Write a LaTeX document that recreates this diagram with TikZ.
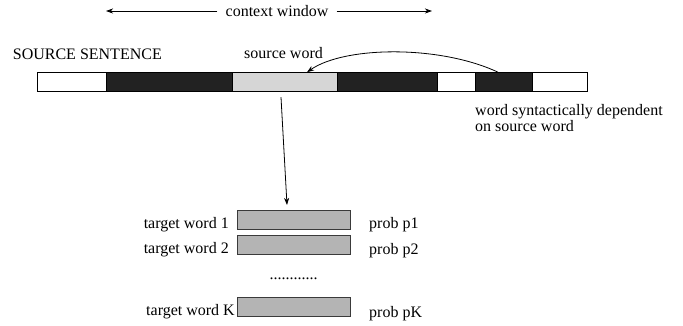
\documentclass[tikz,border=0pt]{standalone}
\usepackage{fontspec}
\setmainfont{Liberation Serif}
\usetikzlibrary{arrows.meta}
\definecolor{segdark}{HTML}{222222}
\definecolor{seglight}{HTML}{D6D6D6}
\definecolor{tgtfill}{HTML}{B4B4B4}
\definecolor{tgtdraw}{HTML}{3A3A3A}
\tikzset{
  seg/.style={draw=black, line width=1pt, minimum height=19pt, inner sep=0pt, outer sep=0pt},
  tgt/.style={draw=tgtdraw, fill=tgtfill, line width=0.9pt, minimum width=113pt, minimum height=19pt, inner sep=0pt, outer sep=0pt},
  lbl/.style={font=\fontsize{16}{16}\selectfont, inner sep=0pt},
  arr/.style={-{Stealth[length=7pt,width=5pt,inset=2pt]}, line width=0.8pt}
}
\begin{document}
\begin{tikzpicture}[x=1pt,y=-1pt]
\useasboundingbox (0,0) rectangle (683,326);
% context window
\node[lbl, inner xsep=8pt] (cw) at (277,11) {context window};
\coordinate (cwl) at (106,11);
\coordinate (cwr) at (432,11);
\draw[arr] (cw.west) -- (cwl);
\draw[arr] (cw.east) -- (cwr);
% labels
\node[lbl, anchor=base west] (ss) at (12.7,60) {SOURCE SENTENCE};
\node[lbl, anchor=base west] (sw) at (244,59) {source word};
% bar segments
\node[seg, fill=white, minimum width=69pt] (s1) at (71.5,81.7) {};
\node[seg, fill=segdark, minimum width=126pt] (s2) at (169,81.7) {};
\node[seg, fill=seglight, minimum width=105pt] (s3) at (284.5,81.7) {};
\node[seg, fill=segdark, minimum width=100pt] (s4) at (387,81.7) {};
\node[seg, fill=white, minimum width=38pt] (s5) at (456,81.7) {};
\node[seg, fill=segdark, minimum width=57pt] (s6) at (503.5,81.7) {};
\node[seg, fill=white, minimum width=55pt] (s7) at (559.5,81.7) {};
% dependent label
\node[lbl, anchor=north west, align=left, font=\fontsize{16}{16}\selectfont] (dep) at (475,104) {word syntactically dependent\\on source word};
% curved arrow
\draw[arr] ([xshift=-5.5pt]s6.north) .. controls (440,45) and (345,46) .. ([xshift=22.5pt]s3.north);
% target boxes
\node[tgt] (t1) at (293.5,219.5) {};
\node[tgt] (t2) at (293.5,244.5) {};
\node[tgt] (tk) at (293.5,306.5) {};
\draw[arr] ([xshift=-3.5pt,yshift=-6pt]s3.south) -- ([xshift=-6.5pt,yshift=5pt]t1.north);
\node[lbl, anchor=base east] (l1) at ([xshift=-8pt,yshift=1pt]t1.south west) {target word 1};
\node[lbl, anchor=base east] (l2) at ([xshift=-8pt,yshift=1pt]t2.south west) {target word 2};
\node[lbl, anchor=base east] (lk) at ([xshift=-2pt,yshift=1pt]tk.south west) {target word K};
\node[lbl, anchor=base west] (p1) at ([xshift=19pt]t1.south east) {prob p1};
\node[lbl, anchor=base west] (p2) at ([xshift=19pt]t2.south east) {prob p2};
\node[lbl, anchor=base west] (pk) at ([xshift=19pt,yshift=-1pt]tk.south east) {prob pK};
\node[lbl, anchor=base] (dots) at (293.5,279) {............};
\end{tikzpicture}
\end{document}
